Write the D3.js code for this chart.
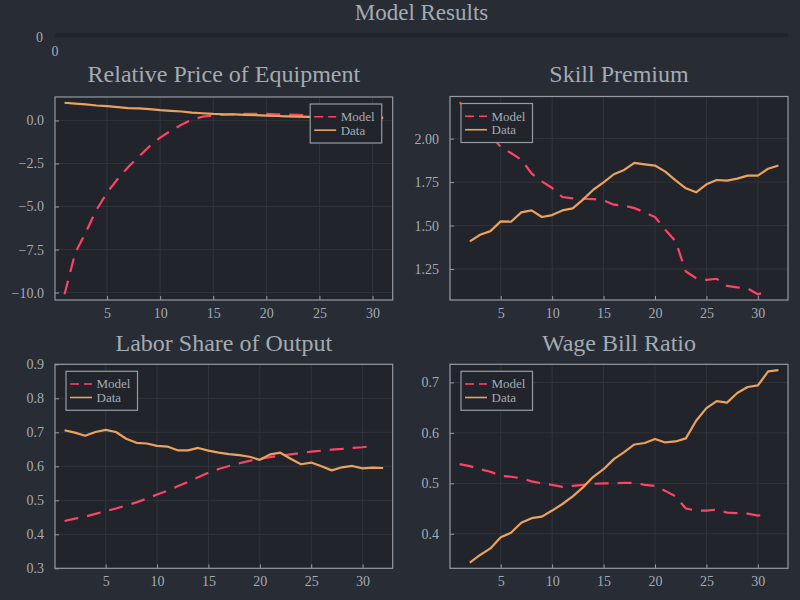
<!DOCTYPE html>
<html>
<head>
<meta charset="utf-8">
<script src="https://cdn.jsdelivr.net/npm/d3@7"></script>
<style>
  html, body { margin: 0; padding: 0; background: #282c34; }
  text { font-family: "Liberation Serif", "DejaVu Serif", serif; }
</style>
</head>
<body>
<svg id="chart" width="800" height="600"></svg>
<script>
const width = 800;
const height = 600;
const bg = '#282c34';
const bgInside = '#21242b';
const fg = '#a3abb3';
const frame = '#959ca4';
const grid = '#30343b';
const red = '#fe4365';
const orange = '#eca25c';

// Relative Price of Equipment
const priceX = [1, 2, 3, 4, 5, 6, 7, 8, 9, 10, 11, 12, 13, 14, 15, 16, 17, 18, 19, 20, 21, 22, 23, 24, 25, 26, 27, 28, 29, 30, 31];
const priceModel = [-10.1, -7.7, -6.5, -5.2, -4.2, -3.4, -2.7, -2.1, -1.5, -1.0, -0.6, -0.25, 0.05, 0.22, 0.30, 0.33, 0.36, 0.38, 0.39, 0.38, 0.36, 0.34, 0.32, 0.30, 0.30, 0.29, 0.27, 0.25, 0.22, 0.20, 0.17];
const priceData = [1.03, 0.98, 0.93, 0.87, 0.83, 0.78, 0.72, 0.70, 0.66, 0.60, 0.56, 0.52, 0.46, 0.42, 0.38, 0.36, 0.35, 0.33, 0.31, 0.28, 0.26, 0.24, 0.22, 0.21, 0.20, 0.19, 0.18, 0.18, 0.17, 0.16, 0.14];

// Skill Premium
const skillModelX = [1, 2, 3, 4, 5, 6, 7, 8, 9, 10, 11, 12, 13, 14, 15, 16, 17, 18, 19, 20, 21, 22, 23, 24, 25, 26, 27, 28, 29, 30, 31];
const skillModel = [2.209, 2.15, 2.08, 2.02, 1.952, 1.917, 1.879, 1.80, 1.754, 1.716, 1.664, 1.656, 1.654, 1.652, 1.645, 1.62, 1.614, 1.60, 1.576, 1.549, 1.476, 1.409, 1.236, 1.197, 1.188, 1.194, 1.153, 1.144, 1.138, 1.105, 1.122];
const skillDataX = [2, 3, 4, 5, 6, 7, 8, 9, 10, 11, 12, 13, 14, 15, 16, 17, 18, 19, 20, 21, 22, 23, 24, 25, 26, 27, 28, 29, 30, 31, 32];
const skillData = [1.409, 1.447, 1.468, 1.524, 1.522, 1.576, 1.587, 1.549, 1.560, 1.587, 1.599, 1.649, 1.706, 1.748, 1.795, 1.820, 1.860, 1.852, 1.845, 1.810, 1.760, 1.714, 1.691, 1.737, 1.762, 1.758, 1.770, 1.787, 1.787, 1.827, 1.845];

// Labor Share of Output
const laborModelX = [1, 2, 3, 4, 5, 6, 7, 8, 9, 10, 11, 12, 13, 14, 15, 16, 17, 18, 19, 20, 21, 22, 23, 24, 25, 26, 27, 28, 29, 30, 31];
const laborModel = [0.439, 0.446, 0.452, 0.460, 0.468, 0.476, 0.485, 0.494, 0.505, 0.517, 0.528, 0.541, 0.554, 0.568, 0.581, 0.592, 0.601, 0.609, 0.616, 0.622, 0.627, 0.631, 0.635, 0.639, 0.643, 0.646, 0.649, 0.651, 0.654, 0.656, 0.660];
const laborDataX = [1, 2, 3, 4, 5, 6, 7, 8, 9, 10, 11, 12, 13, 14, 15, 16, 17, 18, 19, 20, 21, 22, 23, 24, 25, 26, 27, 28, 29, 30, 31, 32];
const laborData = [0.706, 0.699, 0.690, 0.701, 0.707, 0.701, 0.681, 0.669, 0.667, 0.660, 0.658, 0.647, 0.647, 0.654, 0.646, 0.640, 0.636, 0.633, 0.628, 0.619, 0.635, 0.640, 0.622, 0.606, 0.611, 0.600, 0.588, 0.597, 0.601, 0.594, 0.596, 0.595];

// Wage Bill Ratio
const wageModelX = [1, 2, 3, 4, 5, 6, 7, 8, 9, 10, 11, 12, 13, 14, 15, 16, 17, 18, 19, 20, 21, 22, 23, 24, 25, 26, 27, 28, 29, 30, 31];
const wageModel = [0.538, 0.534, 0.528, 0.523, 0.515, 0.513, 0.510, 0.504, 0.500, 0.497, 0.493, 0.495, 0.497, 0.499, 0.500, 0.500, 0.501, 0.501, 0.497, 0.495, 0.485, 0.474, 0.450, 0.446, 0.446, 0.448, 0.442, 0.441, 0.440, 0.436, 0.439];
const wageDataX = [2, 3, 4, 5, 6, 7, 8, 9, 10, 11, 12, 13, 14, 15, 16, 17, 18, 19, 20, 21, 22, 23, 24, 25, 26, 27, 28, 29, 30, 31, 32];
const wageData = [0.343, 0.358, 0.371, 0.393, 0.402, 0.422, 0.431, 0.434, 0.446, 0.459, 0.474, 0.492, 0.513, 0.528, 0.548, 0.562, 0.577, 0.580, 0.588, 0.581, 0.583, 0.589, 0.624, 0.649, 0.663, 0.660, 0.679, 0.691, 0.694, 0.722, 0.7245];

const xTicks = [5, 10, 15, 20, 25, 30];
const legendLabels = ['Model', 'Data'];

const panels = [
    {title: 'Relative Price of Equipment', box: [55, 97, 392.7, 300], titleY: 82, mx: priceX, my: priceModel, dx: priceX, dy: priceData,
     yTicks: [-10, -7.5, -5, -2.5, 0], fmt: '.1f', legend: 'right'},
    {title: 'Skill Premium', box: [450, 96.5, 788, 300], titleY: 82, mx: skillModelX, my: skillModel, dx: skillDataX, dy: skillData,
     yTicks: [1.25, 1.5, 1.75, 2.0], fmt: '.2f', legend: 'left'},
    {title: 'Labor Share of Output', box: [55, 364.3, 392.7, 568.3], titleY: 351, mx: laborModelX, my: laborModel, dx: laborDataX, dy: laborData,
     yTicks: [0.3, 0.4, 0.5, 0.6, 0.7, 0.8, 0.9], fmt: '.1f', legend: 'left', ylim: [0.3, 0.9]},
    {title: 'Wage Bill Ratio', box: [450, 364.3, 788, 568.3], titleY: 351, mx: wageModelX, my: wageModel, dx: wageDataX, dy: wageData,
     yTicks: [0.4, 0.5, 0.6, 0.7], fmt: '.1f', legend: 'left'},
];

const svg = d3.select('#chart');
svg.append('rect').attr('width', width).attr('height', height).attr('fill', bg);

// widen an extent by 3% on each side, like the plotting lib does
function widen(ext) {
    const pad = (ext[1] - ext[0]) * 0.03;
    return [ext[0] - pad, ext[1] + pad];
}

// overall title
svg.append('text')
    .attr('x', 421.5).attr('y', 20)
    .attr('text-anchor', 'middle')
    .attr('font-size', 23)
    .attr('fill', fg)
    .text('Model Results');

// the empty title strip with its lonely zero ticks
const sx = d3.scaleLinear().domain([0, 1]).range([55, 788]);
const sy = d3.scaleLinear().domain([0, 1]).range([37.3, 33.3]);
svg.append('rect')
    .attr('x', sx(0)).attr('y', sy(1))
    .attr('width', sx(1) - sx(0)).attr('height', sy(0) - sy(1))
    .attr('fill', bgInside);
svg.append('text').attr('x', sx(0) - 12).attr('y', sy(0.5) + 2)
    .attr('text-anchor', 'end').attr('dominant-baseline', 'central')
    .attr('font-size', 14).attr('fill', fg).text('0');
svg.append('text').attr('x', sx(0)).attr('y', 51)
    .attr('text-anchor', 'middle').attr('dominant-baseline', 'central')
    .attr('font-size', 14).attr('fill', fg).text('0');

for (const p of panels) {
    const [x0, y0, x1, y1] = p.box;
    const xScale = d3.scaleLinear()
        .domain(widen(d3.extent(p.mx.concat(p.dx))))
        .range([x0, x1]);
    const yScale = d3.scaleLinear()
        .domain(p.ylim || widen(d3.extent(p.my.concat(p.dy))))
        .range([y1, y0]);

    const g = svg.append('g');
    g.append('rect')
        .attr('x', x0).attr('y', y0)
        .attr('width', x1 - x0).attr('height', y1 - y0)
        .attr('fill', bgInside);

    // grid
    g.append('g').selectAll('line').data(xTicks).join('line')
        .attr('x1', d => xScale(d)).attr('x2', d => xScale(d))
        .attr('y1', y0).attr('y2', y1)
        .attr('stroke', grid).attr('stroke-width', 1);
    g.append('g').selectAll('line').data(p.yTicks).join('line')
        .attr('x1', x0).attr('x2', x1)
        .attr('y1', d => yScale(d)).attr('y2', d => yScale(d))
        .attr('stroke', grid).attr('stroke-width', 1);

    // axes, ticks pointing inward
    const fmt = d3.format(p.fmt);
    const xAxis = g.append('g')
        .attr('transform', `translate(0,${y1})`)
        .call(d3.axisBottom(xScale).tickValues(xTicks).tickSizeInner(-4).tickSizeOuter(0).tickPadding(8));
    const yAxis = g.append('g')
        .attr('transform', `translate(${x0},0)`)
        .call(d3.axisLeft(yScale).tickValues(p.yTicks).tickFormat(fmt).tickSizeInner(-4).tickSizeOuter(0).tickPadding(11));
    for (const ax of [xAxis, yAxis]) {
        ax.select('.domain').remove();
        ax.selectAll('line').attr('stroke', frame);
        ax.selectAll('text').attr('fill', fg).attr('font-size', 14)
            .attr('font-family', '"Liberation Serif", serif');
    }

    // frame box
    g.append('rect')
        .attr('x', x0).attr('y', y0)
        .attr('width', x1 - x0).attr('height', y1 - y0)
        .attr('fill', 'none').attr('stroke', frame).attr('stroke-width', 1.2);

    // lines
    const line = d3.line().x(d => xScale(d[0])).y(d => yScale(d[1]));
    g.append('path')
        .attr('d', line(d3.zip(p.mx, p.my)))
        .attr('fill', 'none').attr('stroke', red).attr('stroke-width', 2.2)
        .attr('stroke-dasharray', '14,9');
    g.append('path')
        .attr('d', line(d3.zip(p.dx, p.dy)))
        .attr('fill', 'none').attr('stroke', orange).attr('stroke-width', 2.2)
        .attr('stroke-linejoin', 'round');

    // title
    svg.append('text')
        .attr('x', (x0 + x1) / 2).attr('y', p.titleY)
        .attr('text-anchor', 'middle')
        .attr('font-size', 24)
        .attr('fill', fg)
        .text(p.title);

    // legend
    const lw = 71.5, lh = 39;
    const lx = p.legend === 'right' ? x1 - 11 - lw : x0 + 11;
    const ly = y0 + 7;
    const lg = g.append('g').attr('transform', `translate(${lx},${ly})`);
    lg.append('rect').attr('width', lw).attr('height', lh)
        .attr('fill', bgInside).attr('stroke', frame).attr('stroke-width', 1.2);
    legendLabels.forEach((lab, i) => {
        const yy = 12.7 + i * 13.5;
        lg.append('line')
            .attr('x1', 4).attr('x2', 26).attr('y1', yy).attr('y2', yy)
            .attr('stroke', i === 0 ? red : orange).attr('stroke-width', 1.6)
            .attr('stroke-dasharray', i === 0 ? '9,5' : null);
        lg.append('text')
            .attr('x', 30.5).attr('y', yy)
            .attr('dominant-baseline', 'central')
            .attr('font-size', 13).attr('fill', fg)
            .text(lab);
    });
}
</script>
</body>
</html>
